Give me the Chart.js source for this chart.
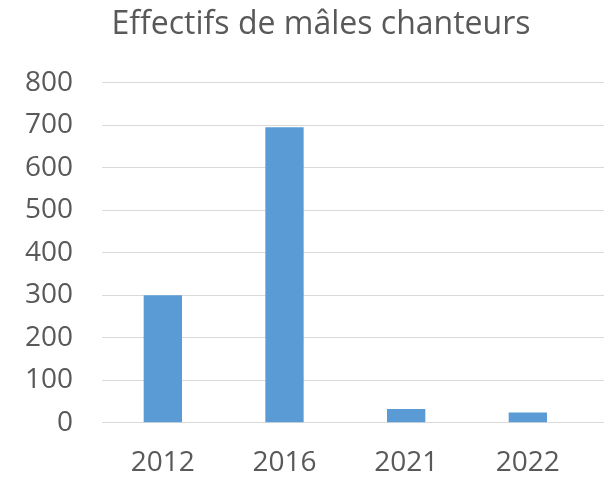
<!DOCTYPE html>
<html><head><meta charset="utf-8">
<script src="https://cdn.jsdelivr.net/npm/chart.js@4"></script>
<style>html,body{margin:0;padding:0;background:#fff}#w{width:604px;height:478px}</style>
</head><body><div id="w"><canvas id="c" width="604" height="478"></canvas></div>
<script>
const categories = ["2012", "2016", "2021", "2022"];
const males = [300, 695, 32, 24];
const yTicks = [0, 100, 200, 300, 400, 500, 600, 700, 800];
const titleText = "Effectifs de mâles chanteurs";

// Plot area in the reference runs past the last category (gridlines reach the right edge)
const layoutTweaks = {
  id: 'layoutTweaks',
  afterLayout(chart) {
    const t = chart.titleBlock;
    if (t) { t.left = 38; t.right = 604; }
    const x = chart.scales.x;
    if (x) { x._startValue = -0.5; x._valueRange = categories.length + 0.126; }
  }
};

new Chart(document.getElementById('c'), {
  type: 'bar',
  data: { labels: categories, datasets: [{ label: titleText, data: males, backgroundColor: '#5b9bd5', barPercentage: 0.315, categoryPercentage: 1 }] },
  plugins: [layoutTweaks],
  options: {
    responsive: false, animation: false,
    layout: { padding: { left: 0, right: 0, top: 0, bottom: 0 } },
    plugins: {
      legend: { display: false }, tooltip: { enabled: false },
      title: { display: true, text: titleText, color: '#595959', font: { family: 'Open Sans', size: 32, weight: 'normal' }, padding: { top: 6, bottom: 38.3 } }
    },
    scales: {
      x: {
        grid: { display: false, drawTicks: false },
        border: { display: true, color: '#d9d9d9', width: 1 },
        ticks: { color: '#595959', font: { family: 'Open Sans', size: 28 }, padding: 24 },
        afterFit: s => { s.height = 478 - 422.7; }
      },
      y: {
        min: 0, max: 800,
        afterBuildTicks: s => { s.ticks = yTicks.map(v => ({ value: v })); },
        grid: { color: '#d9d9d9', lineWidth: 1, drawTicks: false },
        border: { display: false },
        ticks: { color: '#595959', font: { family: 'Open Sans', size: 28 }, padding: 29 },
        afterFit: s => { s.width = 102; }
      }
    }
  }
});
</script></body></html>
